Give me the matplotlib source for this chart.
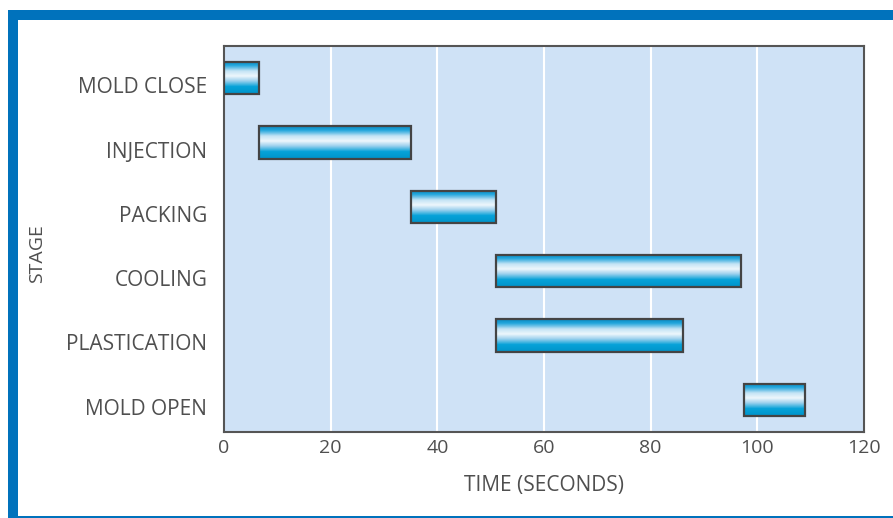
import numpy as np
import matplotlib.pyplot as plt
import matplotlib.transforms as mtrans
from matplotlib.patches import Rectangle
from matplotlib.colors import LinearSegmentedColormap

# dados
stages = ["MOLD CLOSE", "INJECTION", "PACKING", "COOLING", "PLASTICATION", "MOLD OPEN"]
start = [0, 6.5, 35, 51, 51, 97.5]
finish = [6.5, 35, 51, 97, 86, 109]
xticks = [0, 20, 40, 60, 80, 100, 120]

plt.rcParams['font.family'] = ['Open Sans', 'DejaVu Sans']
txt = '#4f4f4f'

fig = plt.figure(figsize=(8.93, 5.18), dpi=100)
W, H = 893, 518
# moldura azul
fig.patches.append(Rectangle((8 / W, 0), 1, (H - 10) / H, transform=fig.transFigure,
                             facecolor='#0072bc', edgecolor='none', zorder=-10))
fig.patches.append(Rectangle((18 / W, 2 / H), 1, (H - 22) / H, transform=fig.transFigure,
                             facecolor='white', edgecolor='none', zorder=-9))

ax = fig.add_axes([224 / W, (H - 432) / H, 640 / W, 386 / H])
ax.set_facecolor('#cfe2f6')

grad = LinearSegmentedColormap.from_list('g', [
    (0.0, '#0a8cc4'), (0.12, '#22a6dc'), (0.3, '#c4e3f5'), (0.45, '#eef7fc'),
    (0.6, '#a0d2ee'), (0.78, '#06a2d8'), (1.0, '#0094ca')])
g = np.linspace(0, 1, 64).reshape(-1, 1)

h = 0.5
for i, (s, f) in enumerate(zip(start, finish)):
    ax.imshow(g, cmap=grad, aspect='auto', extent=(s, f, i + h / 2, i - h / 2),
              zorder=3, interpolation='bilinear')
    ax.add_patch(Rectangle((s, i - h / 2), f - s, h, facecolor='none',
                           edgecolor='#444444', linewidth=1.6, zorder=4))

ax.set_xlim(0, 120)
ax.set_ylim(len(stages) - 0.5, -0.5)
ax.set_xticks(xticks)
ax.set_yticks(range(len(stages)))
ax.set_yticklabels(stages)
ax.tick_params(length=0, labelsize=14, colors=txt, pad=5)
ax.tick_params(axis='y', pad=12, labelsize=15)
# rótulos um pouco abaixo do centro da barra, como no original
off = mtrans.ScaledTranslation(0, -7 / 100, fig.dpi_scale_trans)
for lab in ax.get_yticklabels():
    lab.set_transform(lab.get_transform() + off)
ax.xaxis.grid(True, color='white', linewidth=1.5)
ax.set_axisbelow(True)
for sp in ax.spines.values():
    sp.set_color('#555555')
    sp.set_linewidth(1.5)

ax.set_xlabel('TIME (SECONDS)', fontsize=15, color=txt, labelpad=13)
fig.text(37 / W, 1 - 254 / H, 'STAGE', rotation=90, fontsize=14, color=txt,
         ha='center', va='center')

plt.savefig('out.png', dpi=100)
